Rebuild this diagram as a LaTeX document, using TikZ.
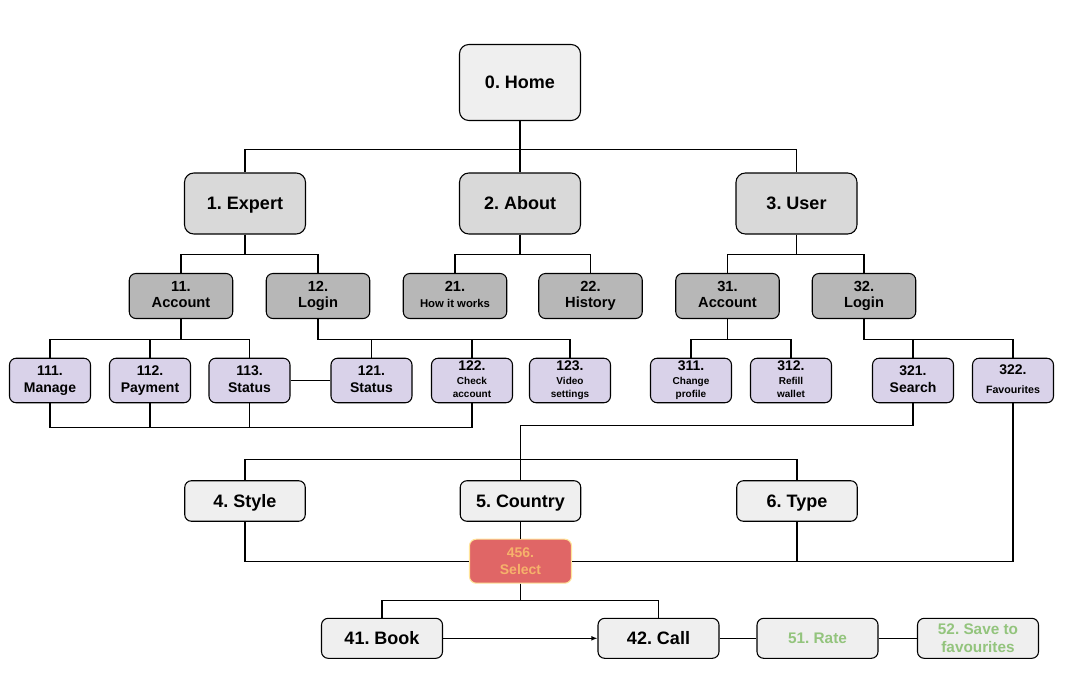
\documentclass[tikz,border=0pt]{standalone}
\usepackage{fontspec}
\setmainfont{Liberation Sans}
\usepackage{xcolor}
\usepackage{tikz}
\usetikzlibrary{arrows.meta}

\definecolor{homegray}{HTML}{EFEFEF}
\definecolor{lvlone}{HTML}{D9D9D9}
\definecolor{lvltwo}{HTML}{B7B7B7}
\definecolor{lavender}{HTML}{D9D2E9}
\definecolor{selred}{HTML}{E06666}
\definecolor{selorange}{HTML}{F6B26B}
\definecolor{selborder}{HTML}{FFE599}
\definecolor{rategreen}{HTML}{93C47D}

\newcommand{\numtxt}[1]{{\fontsize{10.5}{10.5}\selectfont #1}}
\newcommand{\subnum}[1]{{\fontsize{11}{11}\selectfont #1}}

\frenchspacing

\begin{document}
\begin{tikzpicture}[x=0.75pt, y=-0.75pt, line width=0.8pt,
    pagebox/.style={draw, align=center, inner sep=0pt, rounded corners=5pt},
    oneline/.style={text height=12.2pt, text depth=2.9pt},
    toppage/.style={pagebox, oneline, fill=homegray, minimum width=90.75pt,
      minimum height=57pt, rounded corners=7pt,
      font=\bfseries\fontsize{13.5}{15}\selectfont},
    section/.style={pagebox, oneline, fill=lvlone, minimum width=90.75pt,
      minimum height=45.75pt, rounded corners=7pt,
      font=\bfseries\fontsize{13.5}{15}\selectfont},
    subsection/.style={pagebox, fill=lvltwo, minimum width=77.6pt,
      minimum height=33.75pt, text depth=2.3pt,
      font=\bfseries\fontsize{11}{12.5}\selectfont},
    leaf/.style={pagebox, fill=lavender, minimum width=60.75pt,
      minimum height=33.4pt, text depth=2.2pt,
      font=\bfseries\fontsize{10.5}{12.5}\selectfont},
    smallleaf/.style={leaf, text depth=1.6pt,
      font=\bfseries\fontsize{7.5}{10}\selectfont},
    filter/.style={pagebox, oneline, fill=homegray, minimum width=90.4pt,
      minimum height=30.4pt, font=\bfseries\fontsize{13.5}{15}\selectfont},
    pick/.style={pagebox, fill=selred, draw=selborder, text=selorange,
      minimum width=76.5pt, minimum height=33pt,
      font=\bfseries\fontsize{10.5}{12.5}\selectfont},
    action/.style={pagebox, oneline, fill=homegray, minimum width=90.75pt,
      minimum height=30pt, font=\bfseries\fontsize{13.5}{15}\selectfont},
    extra/.style={pagebox, fill=homegray, minimum width=90.75pt,
      minimum height=30pt, text=rategreen,
      font=\bfseries\fontsize{11.5}{13.5}\selectfont}]

    \fill[white] (0,0) rectangle (1066,696);

    % home and sections
    \node[toppage] (home) at (520, 82.5) {0. Home};
    \node[section] (expert) at (245, 203.5) {1. Expert};
    \node[section] (about) at (520, 203.5) {2. About};
    \node[section] (user) at (796.5, 203.5) {3. User};

    % second level
    \node[subsection] (acc11) at (181, 296) {11.\\Account};
    \node[subsection] (log12) at (318, 296) {12.\\Login};
    \node[subsection, font=\bfseries\fontsize{8.5}{12.5}\selectfont]
      (how21) at (455, 296) {\subnum{21.}\\How it works};
    \node[subsection] (his22) at (590.5, 296) {22.\\History};
    \node[subsection] (acc31) at (727.5, 296) {31.\\Account};
    \node[subsection] (log32) at (864, 296) {32.\\Login};

    % third level
    \node[leaf] (man111) at (50, 380.5) {111.\\Manage};
    \node[leaf] (pay112) at (150, 380.5) {112.\\Payment};
    \node[leaf] (sta113) at (249.5, 380.5) {113.\\Status};
    \node[leaf] (sta121) at (371.5, 380.5) {121.\\Status};
    \node[smallleaf] (chk122) at (472, 380.5) {\numtxt{122.}\\Check\\account};
    \node[smallleaf] (vid123) at (570, 380.5) {\numtxt{123.}\\Video\\settings};
    \node[smallleaf] (chg311) at (691, 380.5) {\numtxt{311.}\\Change\\profile};
    \node[smallleaf] (ref312) at (791, 380.5) {\numtxt{312.}\\Refill\\wallet};
    \node[leaf] (sea321) at (913, 380.5) {321.\\Search};
    \node[smallleaf, font=\bfseries\fontsize{8}{14}\selectfont]
      (fav322) at (1013, 380.5) {\numtxt{322.}\\Favourites};

    % filters
    \node[filter] (style) at (245, 501) {4. Style};
    \node[filter] (country) at (520.5, 501) {5. Country};
    \node[filter] (type) at (797, 501) {6. Type};
    \node[pick] (select) at (520.5, 561.2) {456.\\Select};

    % actions
    \node[action] (book) at (382, 638.3) {41. Book};
    \node[action] (call) at (658.5, 638.3) {42. Call};
    \node[extra, text height=10.4pt, text depth=2.4pt]
      (rate) at (817.5, 638.3) {51. Rate};
    \node[extra] (save) at (978, 638.3) {52. Save to\\favourites};

    % home to sections
    \draw (home.south) -- ++(0,28) -| (expert.north);
    \draw (home.south) -- ++(0,28) -| (user.north);
    \draw (home) -- (about);

    % sections to second level
    \draw (expert.south) -- ++(0,19.5) -| (acc11.north);
    \draw (expert.south) -- ++(0,19.5) -| (log12.north);
    \draw (about.south) -- ++(0,19.5) -| (how21.north);
    \draw (about.south) -- ++(0,19.5) -| (his22.north);
    \draw (user.south) -- ++(0,19.5) -| (acc31.north);
    \draw (user.south) -- ++(0,19.5) -| (log32.north);

    % second level to third level
    \draw (acc11.south) -- ++(0,20) -| (man111.north);
    \draw (acc11.south) -- ++(0,20) -| (pay112.north);
    \draw (acc11.south) -- ++(0,20) -| (sta113.north);
    \draw (log12.south) -- ++(0,20) -| (sta121.north);
    \draw (log12.south) -- ++(0,20) -| (chk122.north);
    \draw (log12.south) -- ++(0,20) -| (vid123.north);
    \draw (acc31.south) -- ++(0,20) -| (chg311.north);
    \draw (acc31.south) -- ++(0,20) -| (ref312.north);
    \draw (log32.south) -- ++(0,20) -| (sea321.north);
    \draw (log32.south) -- ++(0,20) -| (fav322.north);

    % expert leaves joined below
    \draw (man111.south) -- ++(0,24.5) -| (chk122.south);
    \draw (pay112.south) -- ++(0,24.5) -| (chk122.south);
    \draw (sta113.south) -- ++(0,24.5) -| (chk122.south);
    \draw (sta113) -- (sta121);

    % search to filters
    \draw (sea321.south) -- ++(0,22) -| (country.north);
    \draw (country.north) -- ++(0,-20.5) -| (style.north);
    \draw (country.north) -- ++(0,-20.5) -| (type.north);

    % filters to select
    \draw (country) -- (select);
    \draw (style.south) |- (select.west);
    \draw (select.east) -| (fav322.south);
    \draw (type.south) -- (type.south |- select.east);

    % select to actions
    \draw (select.south) -- ++(0,17) -| (book.north);
    \draw (select.south) -- ++(0,17) -| (call.north);
    \draw[-{Latex[length=4.5pt, width=3.5pt]}] (book) -- (call);
    \draw (call) -- (rate);
    \draw (rate) -- (save);

\end{tikzpicture}
\end{document}
